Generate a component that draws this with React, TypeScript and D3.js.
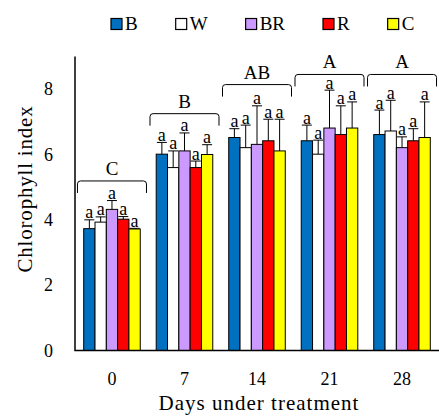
import { useEffect, useRef } from "react";
import * as d3 from "d3";

// chart data
const days = ["0", "7", "14", "21", "28"];
const treatments = ["B", "W", "BR", "R", "C"];
const colors = ["#0070C0", "#FFFFFF", "#CC99FF", "#FF0000", "#FFFF00"];

const meanB = [3.73, 6.01, 6.52, 6.42, 6.61];
const meanW = [3.93, 5.6, 6.21, 6.01, 6.72];
const meanBR = [4.32, 6.11, 6.31, 6.81, 6.21];
const meanR = [4.02, 5.6, 6.42, 6.61, 6.42];
const meanC = [3.72, 6.0, 6.11, 6.81, 6.52];

const errB = [0.27, 0.36, 0.27, 0.48, 0.75];
const errW = [0.16, 0.51, 0.69, 0.43, 0.94];
const errBR = [0.27, 0.55, 1.18, 1.16, 0.33];
const errR = [0.08, 0.2, 0.66, 0.88, 0.37];
const errC = [0.02, 0.3, 0.97, 0.8, 1.09];

const barLetters = ["a", "a", "a", "a", "a"];
const groupLetters = ["C", "B", "AB", "A", "A"];
const bracketLevels = [5.19, 7.25, 8.14, 8.45, 8.45];
const yTicks = [0, 2, 4, 6, 8];

const means = [meanB, meanW, meanBR, meanR, meanC];
const errs = [errB, errW, errBR, errR, errC];

const FONT = "Liberation Serif, serif";

const App = () => {
  const ref = useRef<SVGSVGElement>(null);

  useEffect(() => {
    const svg = d3.select(ref.current);
    svg.selectAll("*").remove();

    const LEFT = 75;
    const RIGHT = 439;
    const BASE = 350.5;

    const y = d3.scaleLinear().domain([0, 9]).range([BASE, 56.5]);

    const x0 = d3
      .scaleBand()
      .domain(days)
      .range([LEFT, RIGHT])
      .paddingInner(0.22)
      .paddingOuter(0.12);

    const x1 = d3
      .scaleBand()
      .domain(treatments)
      .range([0, x0.bandwidth()])
      .padding(0);

    // one row per bar
    const rows = days.flatMap((day, i) =>
      treatments.map((t, j) => ({
        day,
        t,
        color: colors[j],
        value: means[j][i],
        err: errs[j][i],
        letter: barLetters[i],
      }))
    );

    // bars
    svg
      .append("g")
      .selectAll("rect")
      .data(rows)
      .enter()
      .append("rect")
      .attr("x", (d) => x0(d.day)! + x1(d.t)!)
      .attr("y", (d) => y(d.value))
      .attr("width", x1.bandwidth())
      .attr("height", (d) => BASE - y(d.value))
      .attr("fill", (d) => d.color)
      .attr("stroke", "#000")
      .attr("stroke-width", 1);

    // error bars
    const eb = svg.append("g").attr("stroke", "#000").attr("stroke-width", 1);
    rows.forEach((d) => {
      const cx = x0(d.day)! + x1(d.t)! + x1.bandwidth() / 2;
      const top = y(d.value + d.err);
      eb.append("line")
        .attr("x1", cx)
        .attr("x2", cx)
        .attr("y1", y(d.value))
        .attr("y2", top);
      eb.append("line")
        .attr("x1", cx - 5)
        .attr("x2", cx + 5)
        .attr("y1", top)
        .attr("y2", top);
    });

    // small letters above error bars
    svg
      .append("g")
      .selectAll("text")
      .data(rows)
      .enter()
      .append("text")
      .attr("x", (d) => x0(d.day)! + x1(d.t)! + x1.bandwidth() / 2)
      .attr("y", (d) => y(d.value + d.err) - 1.5)
      .attr("text-anchor", "middle")
      .attr("font-family", FONT)
      .attr("font-size", "18px")
      .text((d) => d.letter);

    // brackets with group letters
    const br = svg.append("g");
    days.forEach((day, i) => {
      const cx = x0(day)! + x0.bandwidth() / 2;
      const xa = cx - 34.5;
      const xb = cx + 34.5;
      const yb = y(bracketLevels[i]);
      const r = 3;
      br.append("path")
        .attr(
          "d",
          `M${xa},${yb + 12}V${yb + r}Q${xa},${yb} ${xa + r},${yb}H${xb - r}Q${xb},${yb} ${xb},${yb + r}V${yb + 12}`
        )
        .attr("fill", "none")
        .attr("stroke", "#000")
        .attr("stroke-width", 1);
      br.append("text")
        .attr("x", cx)
        .attr("y", yb - 6)
        .attr("text-anchor", "middle")
        .attr("font-family", FONT)
        .attr("font-size", "19px")
        .text(groupLetters[i]);
    });

    // axes
    svg
      .append("path")
      .attr("d", `M${LEFT},${y(9)}V${BASE}H${RIGHT}`)
      .attr("fill", "none")
      .attr("stroke", "#000")
      .attr("stroke-width", 1.5);

    svg
      .append("g")
      .selectAll("text")
      .data(yTicks)
      .enter()
      .append("text")
      .attr("x", 53)
      .attr("y", (d) => y(d))
      .attr("dy", "0.35em")
      .attr("text-anchor", "end")
      .attr("font-family", FONT)
      .attr("font-size", "18px")
      .text((d) => d);

    svg
      .append("g")
      .selectAll("text")
      .data(days)
      .enter()
      .append("text")
      .attr("x", (d) => x0(d)! + x0.bandwidth() / 2)
      .attr("y", 385)
      .attr("text-anchor", "middle")
      .attr("font-family", FONT)
      .attr("font-size", "18px")
      .text((d) => d);

    // axis titles
    svg
      .append("text")
      .attr("x", (LEFT + RIGHT) / 2 + 2)
      .attr("y", 410)
      .attr("text-anchor", "middle")
      .attr("font-family", FONT)
      .attr("font-size", "21px")
      .attr("letter-spacing", "1px")
      .text("Days under treatment");

    svg
      .append("text")
      .attr("transform", `translate(32, 189) rotate(-90)`)
      .attr("text-anchor", "middle")
      .attr("font-family", FONT)
      .attr("font-size", "21px")
      .attr("letter-spacing", "0.8px")
      .text("Chlorophyll index");

    // legend
    const lg = svg.append("g");
    let lx = 111;
    treatments.forEach((t, j) => {
      lg.append("rect")
        .attr("x", lx)
        .attr("y", 18.5)
        .attr("width", 11)
        .attr("height", 11)
        .attr("fill", colors[j])
        .attr("stroke", "#000")
        .attr("stroke-width", 1.2);
      const txt = lg
        .append("text")
        .attr("x", lx + 14)
        .attr("y", 30)
        .attr("font-family", FONT)
        .attr("font-size", "19px")
        .text(t);
      const w = (txt.node() as SVGTextElement).getComputedTextLength();
      lx += 14 + w + 38;
    });
  }, []);

  return (
    <div style={{ position: "absolute", left: 0, top: 0 }}>
      <svg ref={ref} width={439} height={416} style={{ display: "block" }} />
    </div>
  );
};

export default App;
